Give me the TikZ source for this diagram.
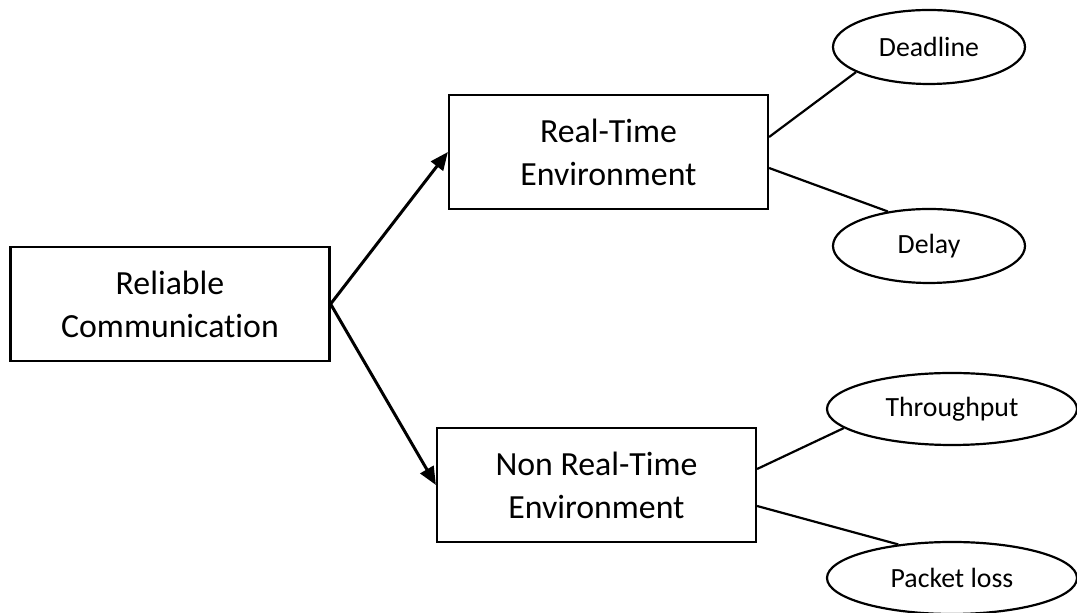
\documentclass[tikz,border=0pt]{standalone}
\usepackage{fontspec}
\setmainfont{Carlito}[Ligatures=NoCommon]
\usetikzlibrary{arrows.meta,shapes.geometric}
\begin{document}
\begin{tikzpicture}[x=0.5pt,y=-0.5pt,
  envbox/.style={draw, line width=1.1pt, minimum width=159.5pt, minimum height=57pt,
    inner sep=0pt, align=center, font=\fontsize{16.9pt}{21.5pt}\selectfont},
  metric/.style={draw, ellipse, line width=1.1pt, inner sep=0pt,
    font=\fontsize{13.9pt}{16pt}\selectfont},
  branch/.style={line width=1.5pt, -{Triangle[length=9pt,width=7.5pt]}},
  link/.style={line width=1.1pt}]
\useasboundingbox (0,0) rectangle (1077,613);

% boxes
\node[envbox] (rc)  at (170,304)   {Reliable\\Communication};
\node[envbox] (rt)  at (608.5,152) {Real-Time\\Environment};
\node[envbox] (nrt) at (596.5,485) {Non Real-Time\\Environment};

% metrics
\node[metric, minimum width=96pt, minimum height=37pt]  (dl) at (929,47)  {Deadline};
\node[metric, minimum width=96pt, minimum height=37pt]  (dy) at (929,246) {Delay};
\node[metric, minimum width=125pt, minimum height=36pt] (tp) at (952,409) {Throughput};
\node[metric, minimum width=125pt, minimum height=36pt] (pl) at (952,578) {Packet loss};

% arrows
\draw[branch] (rc.east) -- (rt.west);
\draw[branch] (rc.east) -- (nrt.west);

% links to metrics
\draw[link] ([yshift=7.5pt]rt.east) -- (dl.199);
\draw[link] ([yshift=-8pt]rt.east) -- (dy.140);
\draw[link] ([yshift=8pt]nrt.east) -- (tp.190);
\draw[link] ([yshift=-10.5pt]nrt.east) -- (pl.148);
\end{tikzpicture}
\end{document}
